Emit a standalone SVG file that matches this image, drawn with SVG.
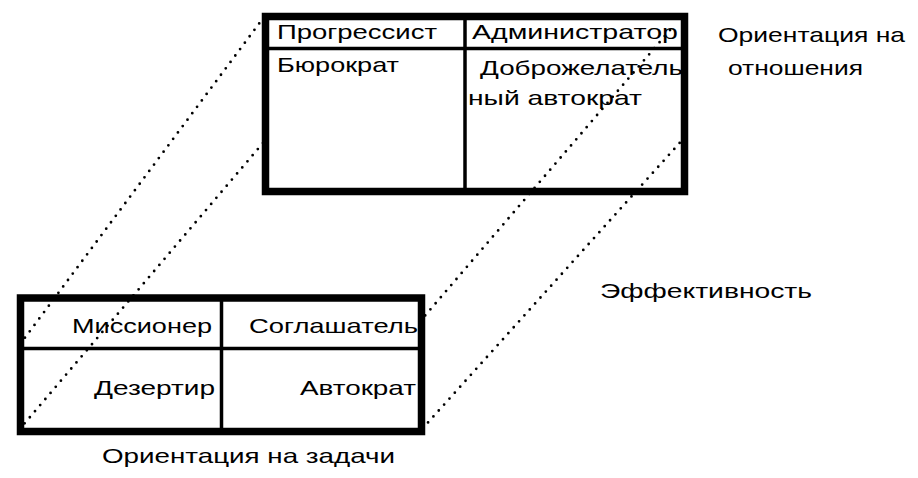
<svg xmlns="http://www.w3.org/2000/svg" width="918" height="478" viewBox="0 0 918 478">
<style>
text{font-family:"Liberation Sans",Arial,sans-serif;font-size:21px;fill:#000}
.frame{fill:none;stroke:#000;stroke-width:7.5}
.div{stroke:#000;stroke-width:3.5;fill:none}
.dot{stroke:#000;stroke-width:2.8;stroke-linecap:round;stroke-dasharray:0 8;fill:none}
</style>
<rect width="918" height="478" fill="#fff"/>
<g id="top-box">
<rect class="frame" x="265.5" y="16.5" width="419" height="175"/>
<line class="div" x1="265" y1="48.5" x2="685" y2="48.5"/>
<line class="div" x1="465" y1="16" x2="465" y2="192"/>
<text x="277" y="39" textLength="160" lengthAdjust="spacingAndGlyphs">Прогрессист</text>
<text x="472" y="39" textLength="206" lengthAdjust="spacingAndGlyphs">Администратор</text>
<text x="277" y="72" textLength="122" lengthAdjust="spacingAndGlyphs">Бюрократ</text>
<text x="480" y="75" textLength="203" lengthAdjust="spacingAndGlyphs">Доброжелатель</text>
<text x="468" y="105" textLength="174" lengthAdjust="spacingAndGlyphs">ный автократ</text>
</g>
<g id="bottom-box">
<rect class="frame" x="20.5" y="298" width="401" height="133.5"/>
<line class="div" x1="20" y1="348.5" x2="422" y2="348.5"/>
<line class="div" x1="221.5" y1="298" x2="221.5" y2="431"/>
<text x="72" y="333" textLength="140" lengthAdjust="spacingAndGlyphs">Миссионер</text>
<text x="249" y="333" textLength="169" lengthAdjust="spacingAndGlyphs">Соглашатель</text>
<text x="94" y="395" textLength="121" lengthAdjust="spacingAndGlyphs">Дезертир</text>
<text x="300" y="395" textLength="116" lengthAdjust="spacingAndGlyphs">Автократ</text>
</g>
<g id="label-relations">
<text x="718" y="42" textLength="187" lengthAdjust="spacingAndGlyphs">Ориентация на</text>
<text x="728" y="75" textLength="135" lengthAdjust="spacingAndGlyphs">отношения</text>
</g>
<g id="label-efficiency">
<text x="600" y="298" textLength="212" lengthAdjust="spacingAndGlyphs">Эффективность</text>
</g>
<g id="label-tasks">
<text x="102" y="463" textLength="293" lengthAdjust="spacingAndGlyphs">Ориентация на задачи</text>
</g>
<g id="connectors">
<line class="dot" x1="264" y1="17" x2="21" y2="343"/>
<line class="dot" x1="263" y1="143" x2="19" y2="430"/>
<line class="dot" x1="670" y1="30" x2="423" y2="318"/>
<line class="dot" x1="685" y1="137" x2="423" y2="428"/>
</g>
</svg>
